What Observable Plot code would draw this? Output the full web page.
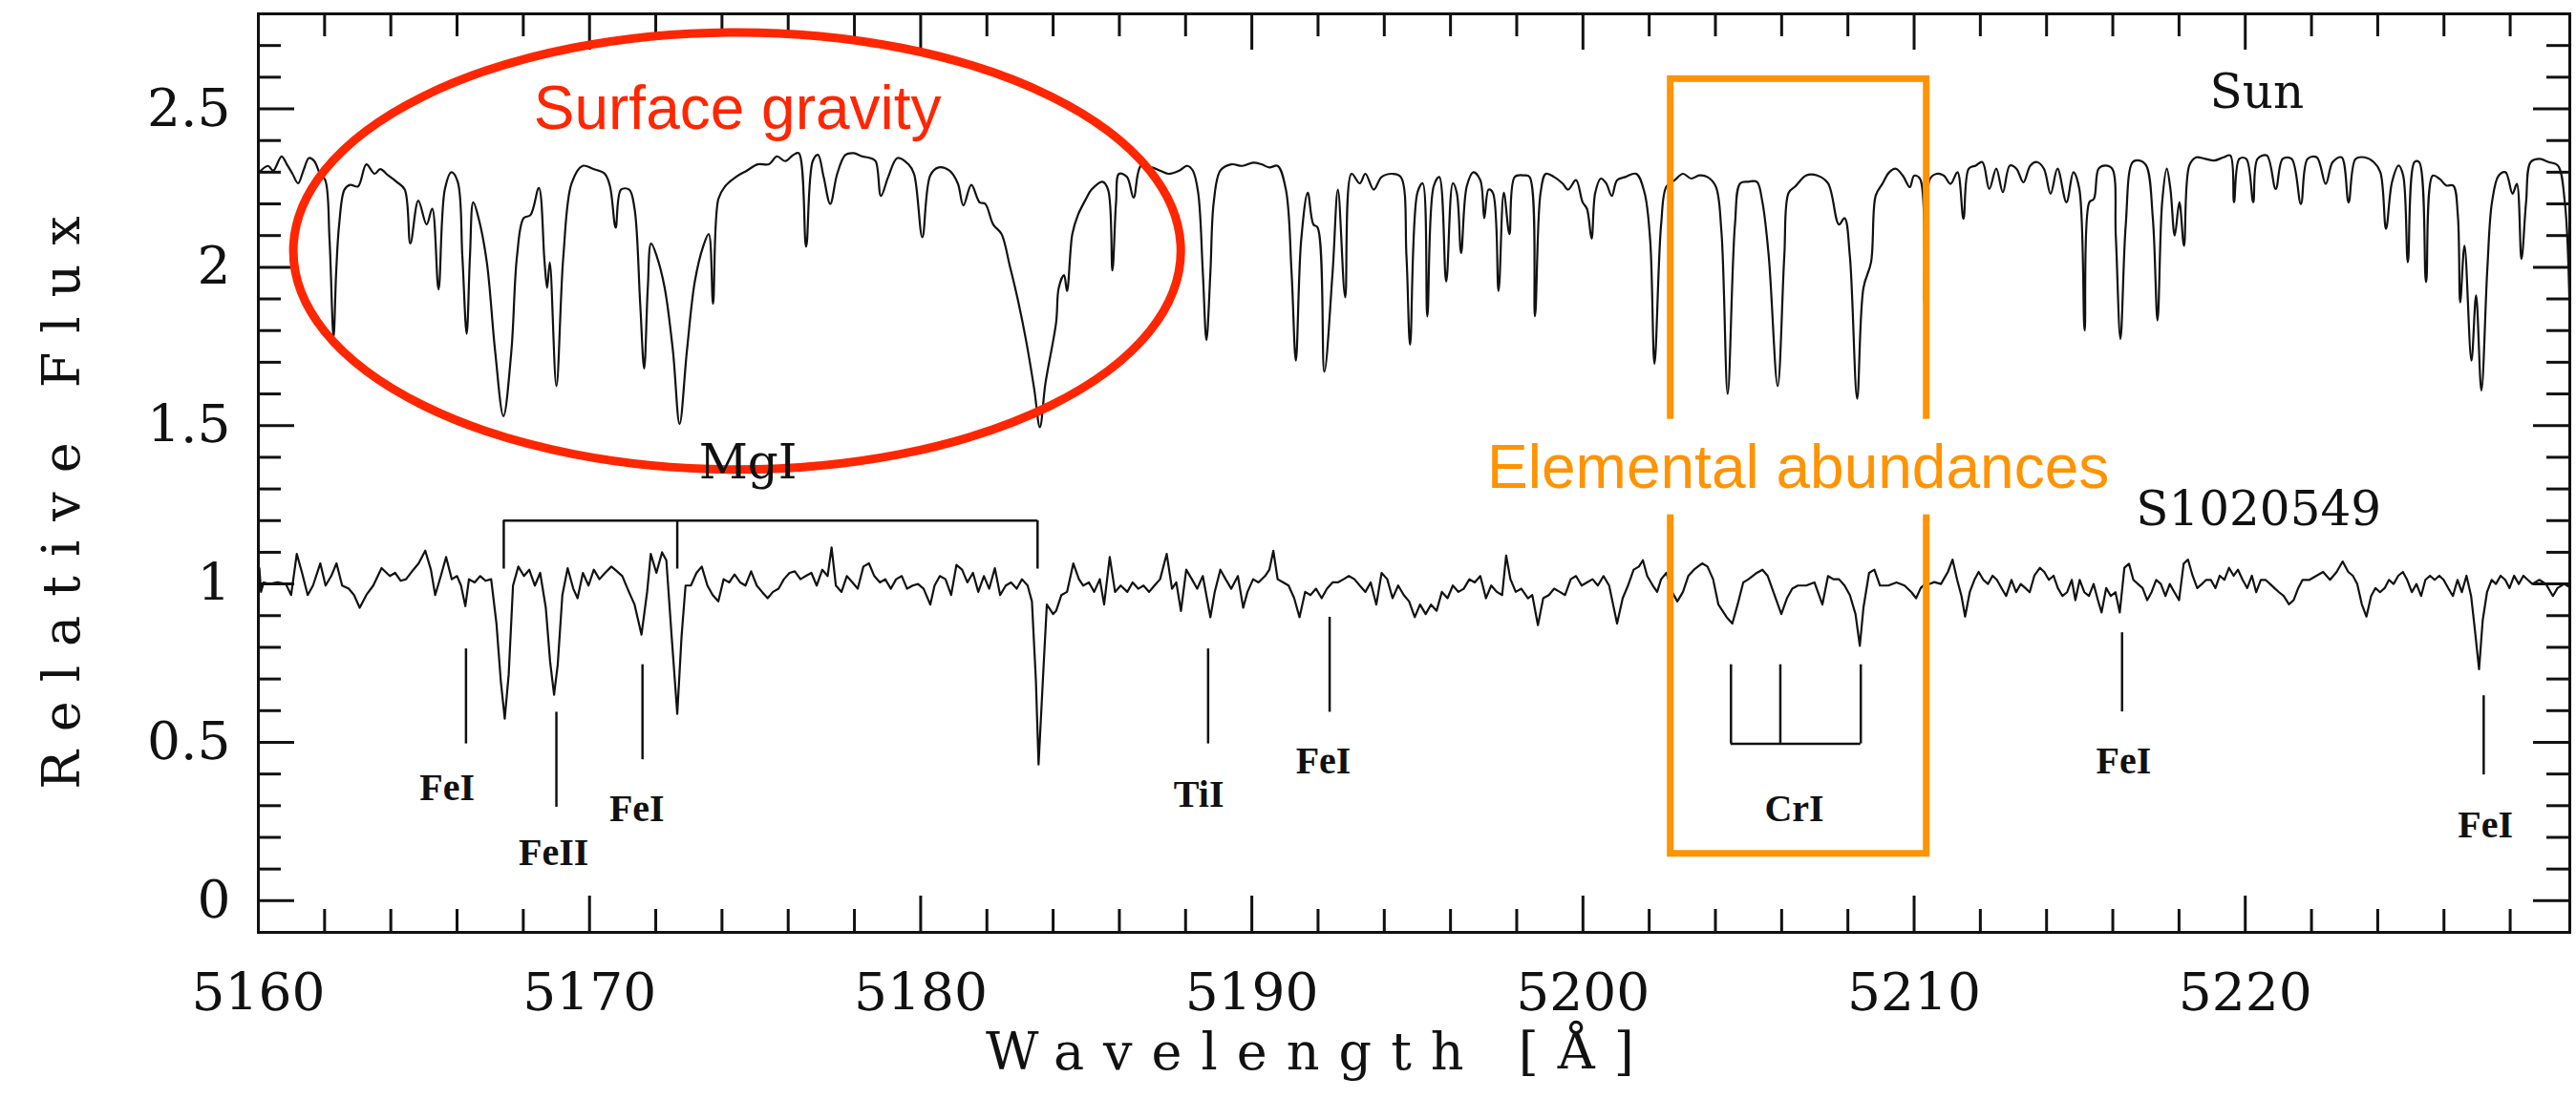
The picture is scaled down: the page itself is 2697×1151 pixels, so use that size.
<!DOCTYPE html>
<html><head><meta charset="utf-8">
<script src="https://cdn.jsdelivr.net/npm/d3@7"></script>
<script src="https://cdn.jsdelivr.net/npm/@observablehq/plot@0.6"></script>
<style>html,body{margin:0;padding:0;background:#fff;}#chart{width:2697px;height:1151px;}</style>
</head><body><div id="chart"></div>
<script>
// ---- Sun spectrum (wavelength in Å, relative flux, offset) ----
const sunWave = [
5160.03,5160.29,5160.45,5160.70,5160.86,5161.03,5161.20,5161.36,5161.53,5161.69,
5161.86,5162.02,5162.15,5162.27,5162.35,5162.44,5162.60,5162.77,5163.01,5163.26,
5163.51,5163.68,5163.92,5164.17,5164.42,5164.59,5164.83,5165.08,5165.25,5165.44,
5165.63,5165.83,5166.02,5166.16,5166.29,5166.39,5166.49,5166.65,5166.90,5167.15,
5167.40,5167.64,5167.81,5168.01,5168.22,5168.47,5168.64,5168.72,5168.80,5169.00,
5169.21,5169.46,5169.79,5170.12,5170.46,5170.62,5170.79,5170.95,5171.20,5171.36,
5171.53,5171.65,5171.76,5171.86,5172.03,5172.27,5172.52,5172.72,5172.94,5173.18,
5173.43,5173.60,5173.73,5173.89,5174.09,5174.42,5174.75,5175.08,5175.42,5175.66,
5175.91,5176.16,5176.32,5176.54,5176.74,5176.90,5177.07,5177.27,5177.48,5177.73,
5177.98,5178.23,5178.47,5178.64,5178.80,5179.02,5179.30,5179.63,5179.80,5180.05,
5180.29,5180.54,5180.87,5181.12,5181.29,5181.53,5181.78,5181.95,5182.19,5182.44,
5182.69,5182.94,5183.19,5183.43,5183.60,5183.77,5184.09,5184.17,5184.33,5184.42,
5184.58,5184.75,5184.99,5185.16,5185.49,5185.66,5185.79,5185.90,5185.99,5186.23,
5186.43,5186.65,5186.98,5187.23,5187.48,5187.81,5188.05,5188.22,5188.38,5188.52,
5188.63,5188.75,5188.85,5189.05,5189.38,5189.71,5190.04,5190.29,5190.53,5190.78,
5191.03,5191.20,5191.33,5191.49,5191.69,5191.86,5191.99,5192.19,5192.44,5192.60,
5192.82,5193.01,5193.26,5193.43,5193.68,5193.92,5194.25,5194.50,5194.67,5194.78,
5195.00,5195.16,5195.30,5195.49,5195.66,5195.87,5196.07,5196.19,5196.32,5196.49,
5196.69,5196.90,5197.02,5197.15,5197.28,5197.45,5197.61,5197.78,5197.94,5198.22,
5198.39,5198.55,5198.72,5198.88,5199.13,5199.38,5199.55,5199.79,5199.99,5200.12,
5200.26,5200.37,5200.54,5200.70,5200.87,5201.03,5201.28,5201.61,5201.86,5202.03,
5202.16,5202.36,5202.52,5202.77,5203.02,5203.27,5203.51,5203.76,5204.01,5204.18,
5204.37,5204.59,5204.75,5205.00,5205.25,5205.42,5205.61,5205.88,5206.08,5206.21,
5206.41,5206.74,5207.07,5207.40,5207.73,5207.90,5208.06,5208.28,5208.47,5208.70,
5208.84,5209.04,5209.25,5209.45,5209.66,5209.87,5210.00,5210.18,5210.32,5210.48,
5210.69,5210.90,5211.10,5211.31,5211.49,5211.65,5211.86,5212.06,5212.27,5212.48,
5212.68,5212.89,5213.09,5213.30,5213.51,5213.71,5213.92,5214.12,5214.33,5214.60,
5214.81,5214.99,5215.15,5215.29,5215.43,5215.57,5215.77,5215.98,5216.09,5216.23,
5216.39,5216.60,5216.80,5217.01,5217.21,5217.35,5217.49,5217.63,5217.74,5217.87,
5218.01,5218.15,5218.31,5218.52,5218.79,5219.07,5219.34,5219.55,5219.66,5219.82,
5220.03,5220.24,5220.37,5220.65,5220.92,5221.13,5221.40,5221.68,5221.88,5222.16,
5222.43,5222.64,5222.91,5223.12,5223.33,5223.60,5223.88,5224.08,5224.25,5224.43,
5224.63,5224.77,5224.91,5225.11,5225.25,5225.46,5225.66,5225.87,5226.07,5226.28,
5226.42,5226.49,5226.62,5226.83,5226.97,5227.13,5227.31,5227.45,5227.65,5227.86,
5228.07,5228.20,5228.34,5228.48,5228.62,5228.89,5229.16,5229.44,5229.65,5229.80
];
const sunFlux = [
2.30,2.32,2.305,2.35,2.325,2.295,2.265,2.305,2.345,2.335,
2.295,2.275,2.085,1.78,1.985,2.135,2.245,2.26,2.255,2.325,
2.295,2.31,2.29,2.27,2.245,2.075,2.21,2.135,2.185,1.93,
2.245,2.30,2.27,2.035,1.79,2.035,2.205,2.155,2.015,1.735,
1.53,1.735,2.035,2.155,2.165,2.25,2.02,1.935,2.015,1.625,
2.035,2.265,2.32,2.31,2.295,2.255,2.125,2.245,2.245,2.185,
1.885,1.68,1.935,2.075,2.035,1.935,1.735,1.505,1.735,1.955,
2.065,2.105,1.885,2.215,2.255,2.285,2.305,2.325,2.325,2.35,
2.335,2.355,2.36,2.065,2.335,2.355,2.285,2.20,2.295,2.355,
2.36,2.35,2.345,2.335,2.225,2.285,2.345,2.325,2.295,2.095,
2.29,2.315,2.305,2.265,2.195,2.26,2.205,2.20,2.135,2.105,
2.005,1.895,1.765,1.615,1.495,1.635,1.825,1.935,1.975,1.925,
2.105,2.165,2.215,2.245,2.27,2.245,1.99,2.205,2.295,2.285,
2.22,2.32,2.315,2.305,2.295,2.305,2.32,2.305,2.235,1.985,
1.77,1.985,2.205,2.305,2.325,2.32,2.33,2.325,2.315,2.32,
2.245,1.985,1.705,2.085,2.235,2.135,2.125,1.67,1.985,2.245,
1.905,2.295,2.265,2.295,2.245,2.285,2.295,2.285,2.035,1.755,
2.235,2.265,1.845,2.255,2.285,1.955,2.265,2.235,2.045,2.255,
2.30,2.275,2.155,2.245,2.235,1.925,2.235,2.105,2.285,2.29,
2.285,1.845,2.235,2.295,2.285,2.265,2.245,2.275,2.205,2.185,
2.09,2.235,2.28,2.265,2.225,2.275,2.285,2.295,2.235,2.085,
1.695,2.135,2.255,2.275,2.295,2.28,2.29,2.285,2.255,2.115,
1.60,2.135,2.265,2.27,2.27,2.205,2.035,1.625,2.035,2.235,
2.255,2.29,2.29,2.265,2.135,2.155,2.035,1.585,1.935,2.016,
2.226,2.263,2.30,2.311,2.289,2.253,2.289,2.279,1.879,2.279,
2.295,2.289,2.263,2.30,2.153,2.311,2.321,2.332,2.247,2.311,
2.237,2.321,2.311,2.268,2.321,2.332,2.311,2.232,2.311,2.205,
2.30,2.247,1.80,2.205,2.216,2.311,2.321,2.311,2.10,1.774,
2.132,2.332,2.337,2.321,2.153,1.832,2.205,2.311,2.247,2.10,
2.205,2.068,2.321,2.347,2.342,2.337,2.347,2.353,2.205,2.342,
2.342,2.205,2.342,2.353,2.247,2.342,2.342,2.20,2.342,2.347,
2.263,2.332,2.347,2.205,2.342,2.347,2.332,2.30,2.121,2.268,
2.321,2.289,2.016,2.332,2.332,1.953,2.289,2.279,2.258,2.258,
2.163,1.889,2.068,1.705,1.911,1.611,1.995,2.205,2.289,2.30,
2.232,2.263,2.026,2.205,2.332,2.342,2.332,2.321,2.205,1.837
];
// ---- S1020549 spectrum ----
const starWave = [
5160.03,5160.08,5160.16,5160.33,5160.58,5160.83,5160.99,5161.16,5161.32,5161.49,
5161.65,5161.87,5162.03,5162.20,5162.36,5162.53,5162.73,5162.89,5163.06,5163.26,
5163.47,5163.72,5163.97,5164.13,5164.30,5164.46,5164.68,5164.84,5165.04,5165.21,
5165.34,5165.51,5165.67,5165.84,5166.00,5166.12,5166.25,5166.36,5166.53,5166.70,
5166.86,5167.03,5167.19,5167.32,5167.44,5167.56,5167.69,5167.85,5168.02,5168.18,
5168.35,5168.51,5168.68,5168.81,5168.93,5169.04,5169.18,5169.34,5169.51,5169.64,
5169.80,5169.97,5170.13,5170.30,5170.47,5170.66,5170.83,5170.99,5171.19,5171.36,
5171.57,5171.74,5171.85,5172.02,5172.19,5172.32,5172.48,5172.65,5172.78,5172.90,
5173.06,5173.23,5173.39,5173.56,5173.72,5173.89,5174.05,5174.22,5174.38,5174.55,
5174.71,5174.88,5175.05,5175.21,5175.38,5175.54,5175.71,5175.87,5176.04,5176.20,
5176.37,5176.53,5176.70,5176.86,5177.03,5177.19,5177.31,5177.44,5177.61,5177.77,
5177.94,5178.10,5178.27,5178.44,5178.60,5178.77,5178.93,5179.10,5179.26,5179.43,
5179.59,5179.76,5179.92,5180.09,5180.29,5180.42,5180.58,5180.75,5180.92,5181.08,
5181.25,5181.41,5181.58,5181.74,5181.91,5182.07,5182.24,5182.40,5182.57,5182.73,
5182.90,5183.06,5183.23,5183.36,5183.48,5183.56,5183.69,5183.81,5184.00,5184.09,
5184.25,5184.42,5184.61,5184.78,5184.91,5185.08,5185.24,5185.41,5185.54,5185.71,
5185.87,5186.04,5186.24,5186.40,5186.57,5186.73,5186.90,5187.06,5187.23,5187.43,
5187.59,5187.72,5187.86,5188.02,5188.19,5188.35,5188.52,5188.75,5188.88,5189.05,
5189.21,5189.38,5189.58,5189.74,5189.87,5190.04,5190.20,5190.40,5190.53,5190.65,
5190.78,5190.95,5191.11,5191.28,5191.44,5191.61,5191.77,5191.94,5192.11,5192.27,
5192.44,5192.60,5192.77,5192.93,5193.10,5193.26,5193.43,5193.59,5193.76,5193.92,
5194.09,5194.25,5194.42,5194.59,5194.75,5194.92,5195.08,5195.25,5195.41,5195.58,
5195.74,5195.91,5196.07,5196.24,5196.40,5196.57,5196.73,5196.90,5197.07,5197.23,
5197.40,5197.56,5197.68,5197.81,5197.97,5198.14,5198.34,5198.47,5198.64,5198.80,
5198.97,5199.13,5199.30,5199.46,5199.63,5199.79,5199.96,5200.12,5200.29,5200.45,
5200.62,5200.79,5201.03,5201.20,5201.36,5201.53,5201.69,5201.81,5201.94,5202.11,
5202.24,5202.36,5202.52,5202.69,5202.85,5203.02,5203.18,5203.35,5203.60,5203.76,
5203.93,5204.09,5204.34,5204.51,5204.67,5204.84,5205.00,5205.25,5205.42,5205.58,
5205.75,5205.99,5206.16,5206.32,5206.49,5206.74,5206.99,5207.23,5207.40,5207.56,
5207.73,5207.90,5208.06,5208.23,5208.36,5208.47,5208.64,5208.80,5208.97,5209.22,
5209.47,5209.71,5209.92,5210.06,5210.20,5210.33,5210.47,5210.61,5210.81,5211.02,
5211.16,5211.30,5211.43,5211.54,5211.68,5211.82,5211.95,5212.09,5212.23,5212.37,
5212.50,5212.64,5212.78,5212.94,5213.08,5213.22,5213.36,5213.49,5213.63,5213.80,
5213.93,5214.07,5214.21,5214.34,5214.48,5214.62,5214.76,5214.87,5215.00,5215.14,
5215.28,5215.42,5215.55,5215.66,5215.80,5215.94,5216.08,5216.21,5216.35,5216.49,
5216.62,5216.76,5216.90,5217.04,5217.17,5217.31,5217.45,5217.59,5217.72,5217.86,
5218.00,5218.14,5218.27,5218.41,5218.55,5218.69,5218.82,5218.96,5219.10,5219.23,
5219.37,5219.51,5219.65,5219.78,5219.92,5220.06,5220.20,5220.33,5220.47,5220.61,
5220.75,5220.88,5221.02,5221.16,5221.32,5221.46,5221.60,5221.73,5221.94,5222.15,
5222.35,5222.56,5222.76,5222.94,5223.11,5223.25,5223.38,5223.52,5223.66,5223.80,
5223.93,5224.07,5224.21,5224.34,5224.48,5224.62,5224.76,5224.89,5225.03,5225.17,
5225.31,5225.44,5225.58,5225.72,5225.86,5225.99,5226.13,5226.27,5226.41,5226.54,
5226.68,5226.82,5226.93,5227.06,5227.17,5227.30,5227.44,5227.57,5227.71,5227.85,
5227.98,5228.12,5228.26,5228.40,5228.53,5228.67,5228.88,5229.08,5229.29,5229.43,
5229.63,5229.80
];
const starFlux = [
1.05,0.975,1.005,1.00,1.005,1.00,0.965,1.095,1.035,0.965,
0.995,1.065,0.995,1.025,1.065,0.995,0.985,0.965,0.925,0.965,
0.995,1.05,1.025,1.035,1.01,1.015,1.045,1.065,1.105,1.045,
0.965,1.025,1.085,1.015,1.025,0.995,0.93,1.015,1.005,1.025,
1.01,1.015,0.875,0.695,0.575,0.715,0.995,1.055,1.025,1.045,
0.995,1.035,0.925,0.755,0.65,0.745,0.965,1.05,0.985,0.955,
1.035,0.995,1.045,1.015,1.035,1.055,1.04,1.025,0.975,0.935,
0.84,0.975,1.095,1.035,1.10,1.075,0.835,0.59,0.835,0.995,
0.995,1.035,1.055,0.995,0.965,0.945,1.015,1.005,1.03,1.005,
0.995,1.04,0.995,0.975,0.955,0.975,0.985,1.015,1.035,1.04,
1.015,1.025,1.035,0.995,1.045,1.025,1.115,0.995,0.975,1.025,
1.005,0.985,1.055,1.065,1.025,1.005,1.015,0.985,1.015,1.025,
0.985,0.995,1.00,0.985,0.935,0.995,1.025,1.015,0.965,1.06,
1.045,1.005,1.035,0.975,1.025,0.985,1.05,0.965,0.995,1.005,
0.985,1.015,0.995,0.945,0.695,0.43,0.695,0.935,0.905,0.915,
0.965,0.975,1.065,1.015,0.995,1.005,0.975,1.015,0.935,1.085,
0.975,0.995,0.975,1.005,0.985,0.995,0.975,0.995,1.015,1.095,
0.985,1.005,0.915,1.045,1.015,0.985,1.025,0.895,0.975,1.045,
1.015,0.985,1.025,0.925,0.975,1.015,1.005,1.025,1.045,1.105,
1.015,1.005,0.995,0.955,0.895,0.975,0.965,0.985,0.955,0.985,
1.005,1.005,1.015,1.025,1.015,0.995,0.975,1.005,0.935,1.035,
1.015,0.955,0.995,0.965,0.945,0.895,0.935,0.905,0.935,0.915,
0.975,0.955,0.995,0.975,0.985,1.015,1.005,1.025,0.955,0.995,
0.975,0.965,1.09,1.015,0.975,0.985,0.955,0.965,0.87,0.955,
0.965,0.985,0.975,0.965,1.015,1.025,0.995,1.005,1.015,0.995,
1.025,0.995,0.875,0.955,0.995,1.045,1.055,1.075,1.025,0.995,
0.975,1.015,1.035,0.975,0.945,0.975,1.025,1.045,1.065,1.055,
1.015,0.935,0.895,0.875,0.935,1.005,1.015,1.035,1.045,1.025,
0.975,0.905,0.955,0.985,0.995,0.995,1.005,0.935,1.025,1.015,
1.015,0.995,0.965,0.905,0.805,0.925,1.035,1.045,0.995,0.995,
1.005,0.995,0.974,0.955,0.987,1.00,1.00,1.006,1.00,1.038,
1.077,1.013,0.962,0.897,0.974,1.013,1.038,1.013,1.00,1.026,
1.013,0.987,0.962,1.013,0.974,1.00,0.987,0.974,1.026,1.051,
1.038,1.013,1.026,0.987,0.962,0.974,1.013,0.949,1.013,0.974,
0.962,1.00,0.949,0.91,0.987,0.962,0.974,0.91,1.051,1.064,
1.013,1.00,0.987,0.949,0.974,1.013,1.00,0.962,1.00,0.974,
0.949,1.064,1.077,1.026,0.987,1.00,1.013,1.013,0.987,1.026,
1.013,1.051,1.026,1.045,1.013,0.987,1.026,0.974,1.013,1.013,
1.00,0.987,0.974,0.962,0.936,0.949,0.987,1.013,1.013,1.026,
1.038,1.013,1.038,1.071,1.038,1.026,1.00,0.936,0.897,0.962,
0.987,0.974,0.987,1.013,1.00,1.026,1.038,1.013,0.974,1.00,
0.962,1.013,1.026,1.013,1.026,1.013,0.987,0.962,1.013,0.974,
1.026,0.962,0.859,0.731,0.885,0.974,1.013,1.00,1.026,1.013,
0.987,1.026,1.00,1.026,1.013,1.00,1.013,1.00,0.962,0.987,
1.00,0.99
];

// ---- axes ----
const xMajorTicks = [5160, 5170, 5180, 5190, 5200, 5210, 5220];
const xMinorTicks = [5162,5164,5166,5168,5172,5174,5176,5178,5182,5184,5186,5188,5192,5194,5196,5198,5202,5204,5206,5208,5212,5214,5216,5218,5222,5224,5226,5228];
const yMajorTicks = [0, 0.5, 1, 1.5, 2, 2.5];
const yMinorTicks = [0.1,0.2,0.3,0.4,0.6,0.7,0.8,0.9,1.1,1.2,1.3,1.4,1.6,1.7,1.8,1.9,2.1,2.2,2.3,2.4,2.6,2.7];
const xTitle = "Wavelength [Å]";
const yTitle = "Relative Flux";

// ---- line identifications ----
const markerWave   = [5166.27, 5169.00, 5171.60, 5188.68, 5192.35, 5204.47, 5205.96, 5208.39, 5216.28, 5227.20];
const markerTop    = [0.795, 0.595, 0.745, 0.795, 0.895, 0.745, 0.745, 0.745, 0.846, 0.647];
const markerBottom = [0.495, 0.295, 0.445, 0.495, 0.595, 0.495, 0.495, 0.495, 0.596, 0.397];
const lineLabelText = ["FeI", "FeII", "FeI", "TiI", "FeI", "CrI", "FeI", "FeI"];
const lineLabelWave = [5165.70, 5168.92, 5171.43, 5188.40, 5192.16, 5206.38, 5216.33, 5227.25];
const lineLabelFlux = [0.355, 0.15, 0.29, 0.335, 0.442, 0.29, 0.442, 0.24];
const mgWave = [5167.41, 5172.65, 5183.53];
const mgBarFlux = 1.2, mgTickEnd = 1.047;
const crBar = {x1: 5204.47, x2: 5208.39, y: 0.495};

// ---- text labels ----
const seriesLabels = [
  {t: "Sun", x: 5220.35, y: 2.55},
  {t: "S1020549", x: 5220.4, y: 1.235}
];
const mgLabel = {t: "MgI", x: 5174.8, y: 1.385};
// ---- highlight annotations ----
const gravityEllipse = {cx: 5174.47, cy: 2.05, rx: 13.4, ry: 0.69, label: "Surface gravity", ly: 2.50};
const abundanceBox = {x1: 5202.65, x2: 5210.38, y1: 0.148, y2: 2.594, label: "Elemental abundances", lx: 5206.5, ly: 1.366};

const sun = sunWave.map((w, i) => ({w, f: sunFlux[i]}));
const star = starWave.map((w, i) => ({w, f: starFlux[i]}));
const markers = markerWave.map((w, i) => ({w, top: markerTop[i], bottom: markerBottom[i]}));
const lineLabels = lineLabelText.map((t, i) => ({t, x: lineLabelWave[i], y: lineLabelFlux[i]}));
const mgBracket = mgWave.map(w => ({w}));

const W = 2697, H = 1151, ML = 270, MR = 7, MT = 14, MB = 175;
const PW = W - ML - MR, PH = H - MT - MB;
const majorLen = 38, minorLen = 24;
const ink = "#111";

const chart = Plot.plot({
  width: W, height: H,
  marginLeft: ML, marginRight: MR, marginTop: MT, marginBottom: MB,
  x: {domain: [5160, 5229.8]},
  y: {domain: [-0.1, 2.8]},
  style: {background: "#fff", color: ink, fontFamily: "DejaVu Serif", overflow: "visible"},
  marks: [
    Plot.line(sun, {x: "w", y: "f", stroke: ink, strokeWidth: 2.2, curve: "catmull-rom"}),
    Plot.line(star, {x: "w", y: "f", stroke: ink, strokeWidth: 2.2}),
    // inward ticks on all four sides
    Plot.ruleX(xMajorTicks, {insetTop: PH - majorLen, stroke: ink, strokeWidth: 3}),
    Plot.ruleX(xMinorTicks, {insetTop: PH - minorLen, stroke: ink, strokeWidth: 3}),
    Plot.ruleX(xMajorTicks, {insetBottom: PH - majorLen, stroke: ink, strokeWidth: 3}),
    Plot.ruleX(xMinorTicks, {insetBottom: PH - minorLen, stroke: ink, strokeWidth: 3}),
    Plot.ruleY(yMajorTicks, {insetRight: PW - majorLen, stroke: ink, strokeWidth: 3}),
    Plot.ruleY(yMinorTicks, {insetRight: PW - minorLen, stroke: ink, strokeWidth: 3}),
    Plot.ruleY(yMajorTicks, {insetLeft: PW - majorLen, stroke: ink, strokeWidth: 3}),
    Plot.ruleY(yMinorTicks, {insetLeft: PW - minorLen, stroke: ink, strokeWidth: 3}),
    Plot.frame({stroke: ink, strokeWidth: 3}),
    Plot.axisX({ticks: xMajorTicks, anchor: "bottom", tickSize: 0, tickPadding: 42, fontSize: 55, fontFamily: "DejaVu Serif", label: null, tickFormat: d => String(d)}),
    Plot.axisY({ticks: yMajorTicks, anchor: "left", tickSize: 0, tickPadding: 29, fontSize: 55, fontFamily: "DejaVu Serif", label: null, tickFormat: d => String(d)}),
    Plot.text([xTitle], {frameAnchor: "bottom", textAnchor: "middle", lineAnchor: "middle", dy: 126, dx: -99, fontSize: 54, fontFamily: "DejaVu Serif", fill: ink}),
    Plot.text([yTitle], {frameAnchor: "left", textAnchor: "middle", lineAnchor: "middle", rotate: -90, dx: -205, dy: 21, fontSize: 54, fontFamily: "DejaVu Serif", fill: ink}),
    // line identification markers
    Plot.ruleX(markers, {x: "w", y1: "top", y2: "bottom", stroke: ink, strokeWidth: 2.5}),
    Plot.ruleY([crBar], {x1: "x1", x2: "x2", y: "y", stroke: ink, strokeWidth: 2.5}),
    Plot.ruleY([{x1: mgWave[0], x2: mgWave[2]}], {x1: "x1", x2: "x2", y: mgBarFlux, stroke: ink, strokeWidth: 2.5}),
    Plot.ruleX(mgBracket, {x: "w", y1: mgBarFlux, y2: mgTickEnd, stroke: ink, strokeWidth: 2.5}),
    Plot.text(lineLabels, {x: "x", y: "y", text: "t", fontFamily: "Liberation Serif", fontWeight: "bold", fontSize: 40, fill: ink}),
    // highlight box
    Plot.rect([abundanceBox], {x1: "x1", x2: "x2", y1: "y1", y2: "y2", fill: "none", stroke: "#ff9300", strokeWidth: 7}),
    Plot.text([gravityEllipse], {x: "cx", y: "ly", text: "label", fontFamily: "Liberation Sans", fontSize: 64, fill: "#ff2600"}),
    Plot.text([abundanceBox], {x: "lx", y: "ly", text: "label", fontFamily: "Liberation Sans", fontSize: 64, fill: "#ff9300"}),
    Plot.text(seriesLabels, {x: "x", y: "y", text: "t", fontFamily: "DejaVu Serif", fontSize: 50, fill: ink})
  ]
});
document.getElementById("chart").append(chart);

const svg = d3.select(chart);
// letter spacing of the axis titles
svg.selectAll("text").filter(function() { return this.textContent === xTitle || this.textContent === yTitle; })
  .style("letter-spacing", "20px");
// white backing behind the orange label (interrupts the box edges)
svg.selectAll("text").filter(function() { return this.textContent === abundanceBox.label; }).each(function() {
  const b = this.getBBox();
  const r = document.createElementNS("http://www.w3.org/2000/svg", "rect");
  r.setAttribute("x", b.x - 10); r.setAttribute("y", b.y - 14);
  r.setAttribute("width", b.width + 20); r.setAttribute("height", b.height + 28);
  r.setAttribute("fill", "#fff");
  if (this.getAttribute("transform")) r.setAttribute("transform", this.getAttribute("transform"));
  this.parentNode.insertBefore(r, this);
});
// red ellipse, positioned through the chart's scales
const sx = chart.scale("x"), sy = chart.scale("y");
const ecx = sx.apply(gravityEllipse.cx), ecy = sy.apply(gravityEllipse.cy);
svg.append("ellipse")
  .attr("cx", ecx).attr("cy", ecy)
  .attr("rx", sx.apply(gravityEllipse.cx + gravityEllipse.rx) - ecx)
  .attr("ry", sy.apply(gravityEllipse.cy - gravityEllipse.ry) - ecy)
  .attr("fill", "none").attr("stroke", "#ff2600").attr("stroke-width", 9);
// MgI label drawn over the ellipse, through the scales
svg.append("text")
  .attr("x", sx.apply(mgLabel.x)).attr("y", sy.apply(mgLabel.y)).attr("dy", "0.36em")
  .attr("text-anchor", "middle").attr("font-family", "DejaVu Serif").attr("font-size", 50)
  .attr("fill", ink).text(mgLabel.t);
</script>
</body></html>
